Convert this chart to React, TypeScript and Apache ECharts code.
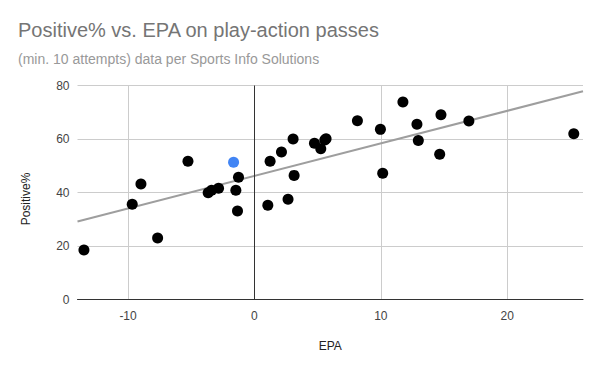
import React, { useEffect, useRef } from "react";
import * as echarts from "echarts";

const titleText = "Positive% vs. EPA on play-action passes";
const subtitleText = "(min. 10 attempts) data per Sports Info Solutions";
const xAxisName = "EPA";
const yAxisName = "Positive%";

// Black points: EPA (x) and Positive% (y)
const epa = [
  -13.49, -9.67, -8.98, -7.66, -5.26, -3.66, -3.39, -2.84, -1.47, -1.26, -1.34,
  1.06, 1.24, 2.14, 2.66, 3.06, 3.14, 4.75, 5.25, 5.57, 5.67, 8.15, 9.97, 10.15,
  11.75, 12.86, 12.97, 14.66, 14.76, 16.97, 25.27,
];
const positive = [
  18.5, 35.6, 43.2, 23.0, 51.7, 39.9, 40.8, 41.6, 40.8, 45.7, 33.1,
  35.2, 51.7, 55.1, 37.5, 60.0, 46.4, 58.4, 56.4, 59.6, 60.1, 66.8, 63.6, 47.2,
  73.8, 65.5, 59.4, 54.3, 69.1, 66.7, 62.0,
];
// Highlighted (blue) point
const highlightEpa = [-1.65];
const highlightPositive = [51.3];

const xMin = -14;
const xMax = 26;
const yTicks = [0, 20, 40, 60, 80];

function linearFit(xs: number[], ys: number[]) {
  const n = xs.length;
  let sx = 0, sy = 0, sxx = 0, sxy = 0;
  for (let i = 0; i < n; i++) {
    sx += xs[i]; sy += ys[i]; sxx += xs[i] * xs[i]; sxy += xs[i] * ys[i];
  }
  const slope = (n * sxy - sx * sy) / (n * sxx - sx * sx);
  const intercept = (sy - slope * sx) / n;
  return { slope, intercept };
}

export default function App() {
  const ref = useRef<HTMLDivElement>(null);
  useEffect(() => {
    if (!ref.current) return;
    const chart = echarts.init(ref.current, undefined, { renderer: "svg" });
    const allX = epa.concat(highlightEpa);
    const allY = positive.concat(highlightPositive);
    const { slope, intercept } = linearFit(allX, allY);
    const trend = [
      [xMin, intercept + slope * xMin],
      [xMax, intercept + slope * xMax],
    ];
    const font = "'Liberation Sans', Arial, sans-serif";
    chart.setOption({
      animation: false,
      backgroundColor: "#ffffff",
      textStyle: { fontFamily: font },
      title: {
        text: titleText,
        subtext: subtitleText,
        left: 13,
        top: 15,
        itemGap: 12,
        textStyle: { fontFamily: font, fontSize: 20, fontWeight: "normal", color: "#757575" },
        subtextStyle: { fontFamily: font, fontSize: 14, color: "#999999" },
      },
      graphic: [
        {
          type: "text",
          x: 26,
          y: 199,
          rotation: Math.PI / 2,
          style: {
            text: yAxisName,
            fill: "#222222",
            font: "12px 'Liberation Sans', Arial, sans-serif",
            align: "center",
            verticalAlign: "middle",
          },
        },
      ],
      grid: { left: 77.5, right: 17, top: 85.5, bottom: 71.5, containLabel: false },
      xAxis: {
        type: "value",
        min: xMin,
        max: xMax,
        name: xAxisName,
        nameLocation: "middle",
        nameGap: 40,
        nameTextStyle: { color: "#222222", fontSize: 12, fontFamily: font },
        axisLine: { show: true, onZero: false, lineStyle: { color: "#333333", width: 1 } },
        axisTick: { show: false },
        axisLabel: {
          color: "#444444",
          fontSize: 12,
          margin: 10,
          showMinLabel: false,
          showMaxLabel: false,
          fontFamily: font,
        },
        splitLine: { show: true, showMinLine: false, showMaxLine: false, lineStyle: { color: "#cccccc", width: 1 } },
      },
      yAxis: {
        type: "value",
        min: yTicks[0],
        max: yTicks[yTicks.length - 1],
        interval: yTicks[1] - yTicks[0],
        axisLine: { show: false },
        axisTick: { show: false },
        axisLabel: { color: "#444444", fontSize: 12, margin: 8, fontFamily: font },
        splitLine: { show: true, lineStyle: { color: "#cccccc", width: 1 } },
      },
      series: [
        {
          type: "line",
          data: trend,
          showSymbol: false,
          symbol: "none",
          lineStyle: { color: "#9e9e9e", width: 2 },
          z: 2,
          silent: true,
          markLine: {
            silent: true,
            symbol: "none",
            label: { show: false },
            lineStyle: { color: "#333333", width: 1, type: "solid" },
            data: [{ xAxis: 0 }],
          },
        },
        {
          type: "scatter",
          data: epa.map((x, i) => [x, positive[i]]),
          symbolSize: 11,
          itemStyle: { color: "#000000", opacity: 1 },
          z: 3,
        },
        {
          type: "scatter",
          data: highlightEpa.map((x, i) => [x, highlightPositive[i]]),
          symbolSize: 11,
          itemStyle: { color: "#4285f4", opacity: 1 },
          z: 3,
        },
      ],
    });
    return () => chart.dispose();
  }, []);
  return <div ref={ref} style={{ width: 600, height: 371, position: "absolute", left: 0, top: 0 }} />;
}
